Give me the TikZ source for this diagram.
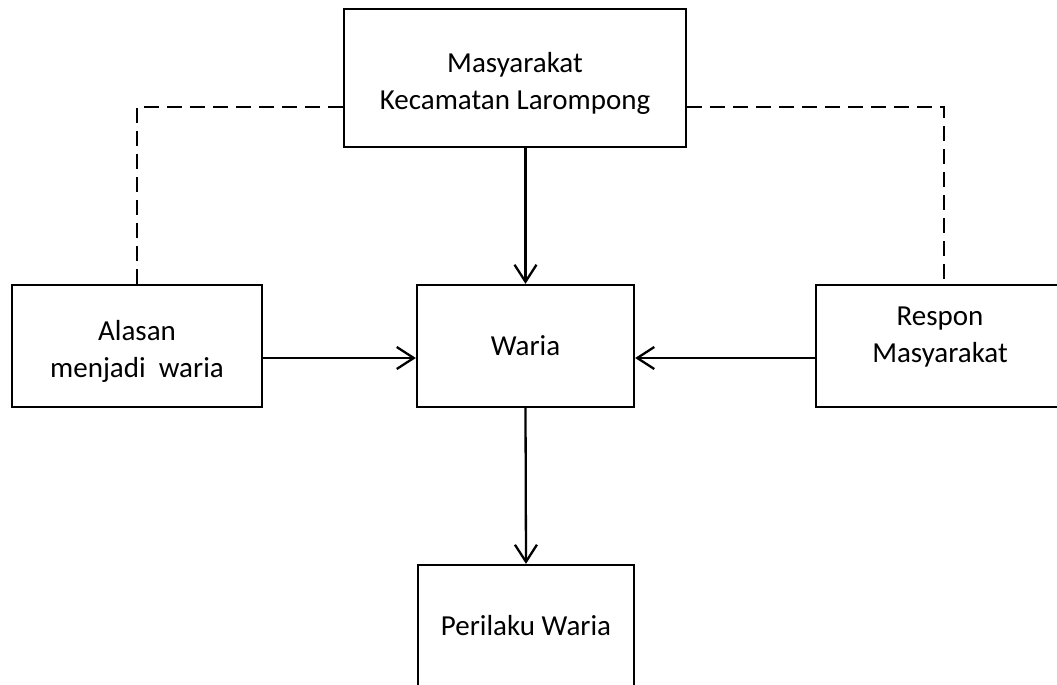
\documentclass[tikz,border=0pt]{standalone}
\usepackage{fontspec}
\setmainfont{Carlito}
\usetikzlibrary{arrows.meta}

\begin{document}
\begin{tikzpicture}[x=1pt,y=-1pt,
    kotak/.style={draw, line width=2.3pt, align=center, inner sep=0pt,
        font=\fontsize{29}{37}\selectfont},
    teks/.style={align=center, inner sep=0pt, font=\fontsize{29}{37}\selectfont},
    panah/.style={line width=2.3pt, -{Straight Barb[length=17pt,width=22pt]}},
    putus/.style={line width=2.3pt, dash pattern=on 15pt off 8pt}]
                \useasboundingbox (0,0) rectangle (1057,685);

                \node[kotak, minimum width=342pt, minimum height=138pt] (masyarakat) at (515,78) {};
                \node[teks] (teksmasyarakat) at (515,83.5) {Masyarakat\\Kecamatan Larompong};
                \node[kotak, minimum width=250pt, minimum height=122pt] (alasan) at (137,346) {};
                \node[teks] (teksalasan) at (137,351.5) {Alasan\\menjadi\ \ waria};
                \node[kotak, minimum width=217pt, minimum height=122pt] (waria) at (525.5,346) {Waria};
                \node[kotak, minimum width=256pt, minimum height=122pt] (respon) at (944,346) {};
                \node[teks] (teksrespon) at (940,337.5) {Respon\\Masyarakat};
                \node[kotak, minimum width=216pt, minimum height=122pt] (perilaku) at (526,626) {Perilaku Waria};

                \draw[putus] ([yshift=-29pt]masyarakat.west) -| (alasan.north);
                \draw[putus] ([yshift=-29pt]masyarakat.east) -| (respon.north);

                \draw[panah] (masyarakat.south -| waria.north) -- (waria.north);
                \draw[panah] ([yshift=-12pt]alasan.east) -- ([yshift=-12pt]waria.west);
                \draw[panah] ([yshift=-12pt]respon.west) -- ([yshift=-12pt]waria.east);
                \draw[panah] (waria.south) -- (perilaku.north);
            \end{tikzpicture}
\end{document}
